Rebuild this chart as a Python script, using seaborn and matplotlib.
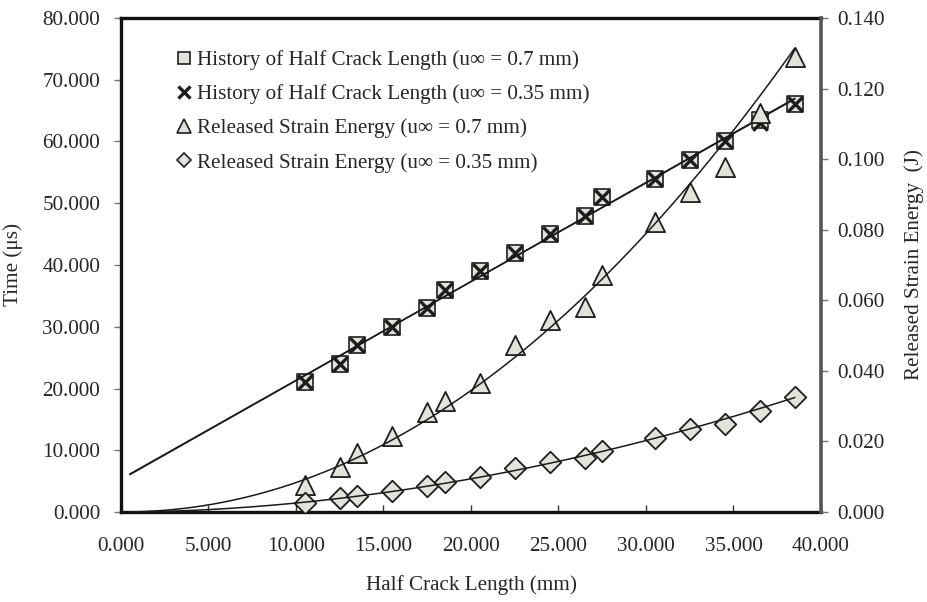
import numpy as np
import matplotlib
matplotlib.use("Agg")
import matplotlib.pyplot as plt
import seaborn as sns
from matplotlib.lines import Line2D
from matplotlib.ticker import FormatStrFormatter

# ---------------- data ----------------
crack_len = [10.5, 12.5, 13.5, 15.5, 17.5, 18.5, 20.5, 22.5, 24.5, 26.5,
             27.5, 30.5, 32.5, 34.5, 36.5, 38.5]
time_07 = [21, 24, 27, 30, 33, 36, 39, 42, 45, 48, 51, 54, 57, 60, 63.5, 66]
time_035 = [21, 24, 27, 30, 33, 36, 39, 42, 45, 48, 51, 54, 57, 60, 63, 66]
energy_07 = [0.0076, 0.0128, 0.0167, 0.0215, 0.0283, 0.0315, 0.0365, 0.0473,
             0.0544, 0.0581, 0.0672, 0.0822, 0.0907, 0.0978, 0.1131, 0.1289]
energy_035 = [0.0025, 0.0040, 0.0045, 0.0060, 0.0074, 0.0085, 0.0099, 0.0125,
              0.0142, 0.0153, 0.0173, 0.0210, 0.0235, 0.0249, 0.0286, 0.0326]
labels = ["History of Half Crack Length (u\u221e = 0.7 mm)",
          "History of Half Crack Length (u\u221e = 0.35 mm)",
          "Released Strain Energy (u\u221e = 0.7 mm)",
          "Released Strain Energy (u\u221e = 0.35 mm)"]
x_ticks = [0, 5, 10, 15, 20, 25, 30, 35, 40]
left_ticks = [0, 10, 20, 30, 40, 50, 60, 70, 80]
right_ticks = [0, 0.02, 0.04, 0.06, 0.08, 0.10, 0.12, 0.14]
trend_back = 10.0  # trendline forecast backward (units of x)

# ---------------- style ----------------
sns.set_theme(style="white")
plt.rcParams['font.family'] = ['Liberation Serif', 'DejaVu Serif']
FS = 15.2
FACE = '#e3e3dc'
EDGE = '#1e1e1e'
LINE = '#1a1a1a'

fig = plt.figure(figsize=(9.28, 6.02), dpi=100)
W, H = 928, 602
l, r, t, b = 121, 821, 18, 512
ax = fig.add_axes([l / W, 1 - b / H, (r - l) / W, (b - t) / H])
ax2 = ax.twinx()

x = np.array(crack_len)
xx = np.linspace(x.min() - trend_back, x.max(), 400)

# markers (seaborn)
sns.scatterplot(x=crack_len, y=time_07, marker='s', s=120, color=FACE,
                edgecolor=EDGE, linewidth=1.2, ax=ax, zorder=3)
sns.scatterplot(x=crack_len, y=time_035, marker='x', s=110, color=EDGE,
                linewidth=2.4, ax=ax, zorder=4)
sns.scatterplot(x=crack_len, y=energy_07, marker='^', s=190, color=FACE,
                edgecolor=EDGE, linewidth=1.3, ax=ax2, zorder=3)
sns.scatterplot(x=crack_len, y=energy_035, marker='D', s=120, color=FACE,
                edgecolor=EDGE, linewidth=1.3, ax=ax2, zorder=3)

# trendlines: linear for time, power law for energy
for yv in (time_07, time_035):
    c = np.polyfit(x, np.array(yv), 1)
    ax.plot(xx, np.polyval(c, xx), color=LINE, lw=1.1, zorder=5)
for yv in (energy_07, energy_035):
    bexp, lna = np.polyfit(np.log(x), np.log(np.array(yv)), 1)
    ax2.plot(xx, np.exp(lna) * xx ** bexp, color=LINE, lw=1.1, zorder=5)

# axes limits & ticks
ax.set_xlim(0, 40)
ax.set_ylim(0, 80)
ax2.set_ylim(0, 0.14)
ax.set_xticks(x_ticks)
ax.set_yticks(left_ticks)
ax2.set_yticks(right_ticks)
ax.xaxis.set_major_formatter(FormatStrFormatter('%.3f'))
ax.yaxis.set_major_formatter(FormatStrFormatter('%.3f'))
ax2.yaxis.set_major_formatter(FormatStrFormatter('%.3f'))
ax.grid(False)
ax2.grid(False)

ax.tick_params(axis='x', direction='in', length=5, width=1, color='#333333',
               labelsize=FS, pad=18, bottom=True, top=False)
ax.tick_params(axis='y', direction='out', length=5, width=1, color='#777777',
               labelsize=FS, pad=10, left=True)
ax2.tick_params(axis='y', direction='out', length=5, width=1, color='#777777',
                labelsize=FS, pad=7, right=True)

for s in ['left', 'bottom', 'top']:
    ax.spines[s].set_color('#111111')
    ax.spines[s].set_linewidth(2.4)
ax.spines['right'].set_visible(False)
for s in ['left', 'bottom', 'top']:
    ax2.spines[s].set_visible(False)
ax2.spines['right'].set_color('#555555')
ax2.spines['right'].set_linewidth(2.6)

ax.set_xlabel('Half Crack Length (mm)', fontsize=FS, labelpad=14)
ax.set_ylabel('Time (\u03bcs)', fontsize=FS, labelpad=14)
ax2.set_ylabel('Released Strain Energy  (J)', fontsize=FS, labelpad=14)

# legend
handles = [
    Line2D([], [], ls='none', marker='s', ms=8, mfc=FACE, mec=EDGE, mew=1.2),
    Line2D([], [], ls='none', marker='x', ms=9, color=EDGE, mew=2.4),
    Line2D([], [], ls='none', marker='^', ms=10, mfc=FACE, mec=EDGE, mew=1.2),
    Line2D([], [], ls='none', marker='D', ms=7.5, mfc=FACE, mec=EDGE, mew=1.2),
]
leg = ax2.legend(handles, labels, loc='upper left', bbox_to_anchor=(0.075, 0.935),
                 frameon=False, fontsize=FS, handlelength=1.0, handletextpad=0.1,
                 labelspacing=0.68, borderpad=0, borderaxespad=0)

fig.savefig('out.png', dpi=100, facecolor='white')
